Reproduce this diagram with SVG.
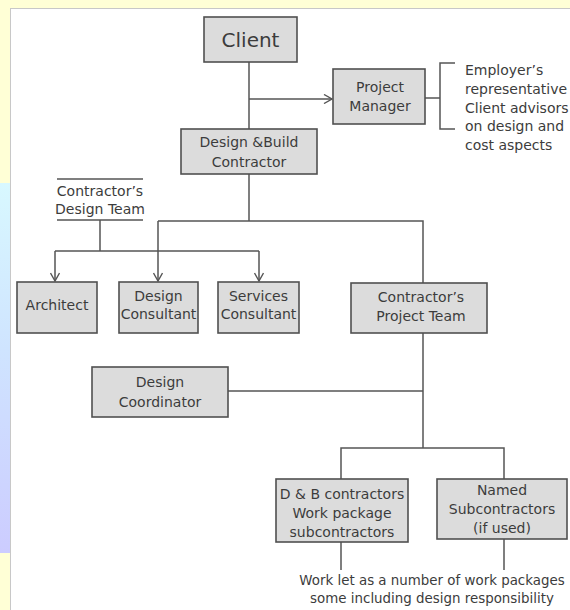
<svg xmlns="http://www.w3.org/2000/svg" width="570" height="610" viewBox="0 0 570 610">
  <defs>
    <linearGradient id="edge" x1="0" y1="0" x2="0" y2="1">
      <stop offset="0" stop-color="#d8f8ff"/>
      <stop offset="0.45" stop-color="#cfe4ff"/>
      <stop offset="1" stop-color="#ccccff"/>
    </linearGradient>
    <marker id="vee" viewBox="0 0 10 10" refX="9" refY="5" markerWidth="10" markerHeight="10" markerUnits="userSpaceOnUse" orient="auto">
      <path d="M1,0.5 L9,5 L1,9.5" fill="none" stroke="#555" stroke-width="1.4"/>
    </marker>
    <style>
      .box { fill: #dcdcdc; stroke: #505050; stroke-width: 1.6; }
      .lbl { font-family: "DejaVu Sans", "Liberation Sans", sans-serif; font-size: 14px; fill: #3c3c3c; text-anchor: middle; }
      .note { font-family: "DejaVu Sans", "Liberation Sans", sans-serif; font-size: 14px; fill: #3c3c3c; }
      .wire { fill: none; stroke: #555; stroke-width: 1.5; }
    </style>
  </defs>

  <!-- page background and panel -->
  <rect x="0" y="0" width="570" height="610" fill="#ffffd6"/>
  <rect x="0" y="183" width="10" height="370" fill="url(#edge)"/>
  <rect x="10.5" y="8.5" width="570" height="610" fill="#ffffff" stroke="#c8c8c8" stroke-width="1"/>

  <!-- connectors -->
  <g id="connectors">
    <path class="wire" d="M249,62 V129"/>
    <path class="wire" d="M249,99 H332" marker-end="url(#vee)"/>
    <path class="wire" d="M425,98 H440"/>
    <path class="wire" d="M455,63 H440 V129 H455"/>
    <path class="wire" d="M249,174 V221"/>
    <path class="wire" d="M158,221 H423 V283"/>
    <path class="wire" d="M158,221 V281" marker-end="url(#vee)"/>
    <path class="wire" d="M57,179 H143"/>
    <path class="wire" d="M57,220 H143"/>
    <path class="wire" d="M100,220 V251"/>
    <path class="wire" d="M55,251 H259"/>
    <path class="wire" d="M55,251 V281" marker-end="url(#vee)"/>
    <path class="wire" d="M259,251 V281" marker-end="url(#vee)"/>
    <path class="wire" d="M423,333 V448"/>
    <path class="wire" d="M228,391 H423"/>
    <path class="wire" d="M341,479 V448 H504 V479"/>
    <path class="wire" d="M341,542 V570"/>
    <path class="wire" d="M504,539 V570"/>
  </g>

  <g id="client">
    <rect class="box" x="204" y="17" width="93" height="45"/>
    <text class="lbl" x="250.5" y="47" style="font-size:20px">Client</text>
  </g>

  <g id="project-manager">
    <rect class="box" x="333" y="69" width="92" height="55"/>
    <text class="lbl" x="380" y="92">Project</text>
    <text class="lbl" x="380" y="111">Manager</text>
  </g>

  <g id="pm-note">
    <text class="note" x="465" y="75">Employer’s</text>
    <text class="note" x="465" y="94">representative</text>
    <text class="note" x="465" y="113">Client advisors</text>
    <text class="note" x="465" y="131">on design and</text>
    <text class="note" x="465" y="150">cost aspects</text>
  </g>

  <g id="design-build-contractor">
    <rect class="box" x="181" y="129" width="136" height="45"/>
    <text class="lbl" x="249" y="147">Design &amp;Build</text>
    <text class="lbl" x="249" y="167">Contractor</text>
  </g>

  <g id="design-team">
    <text class="lbl" x="100" y="196">Contractor’s</text>
    <text class="lbl" x="100" y="214">Design Team</text>
  </g>

  <g id="architect">
    <rect class="box" x="17" y="282" width="80" height="51"/>
    <text class="lbl" x="57" y="310">Architect</text>
  </g>

  <g id="design-consultant">
    <rect class="box" x="119" y="282" width="79" height="51"/>
    <text class="lbl" x="158.5" y="301">Design</text>
    <text class="lbl" x="158.5" y="319">Consultant</text>
  </g>

  <g id="services-consultant">
    <rect class="box" x="218" y="282" width="81" height="51"/>
    <text class="lbl" x="258.5" y="301">Services</text>
    <text class="lbl" x="258.5" y="319">Consultant</text>
  </g>

  <g id="project-team">
    <rect class="box" x="351" y="283" width="136" height="50"/>
    <text class="lbl" x="421" y="302">Contractor’s</text>
    <text class="lbl" x="421" y="321">Project Team</text>
  </g>

  <g id="design-coordinator">
    <rect class="box" x="92" y="367" width="136" height="50"/>
    <text class="lbl" x="160" y="387">Design</text>
    <text class="lbl" x="160" y="407">Coordinator</text>
  </g>

  <g id="db-subcontractors">
    <rect class="box" x="276" y="479" width="132" height="63"/>
    <text class="lbl" x="342" y="499">D &amp; B contractors</text>
    <text class="lbl" x="342" y="518">Work package</text>
    <text class="lbl" x="342" y="537">subcontractors</text>
  </g>

  <g id="named-subcontractors">
    <rect class="box" x="437" y="479" width="130" height="60"/>
    <text class="lbl" x="502" y="495">Named</text>
    <text class="lbl" x="502" y="514">Subcontractors</text>
    <text class="lbl" x="502" y="533">(if used)</text>
  </g>

  <g id="work-note">
    <text class="lbl" x="432" y="585" style="font-size:13.4px">Work let as a number of work packages</text>
    <text class="lbl" x="432" y="603" style="font-size:13.4px">some including design responsibility</text>
  </g>
</svg>
